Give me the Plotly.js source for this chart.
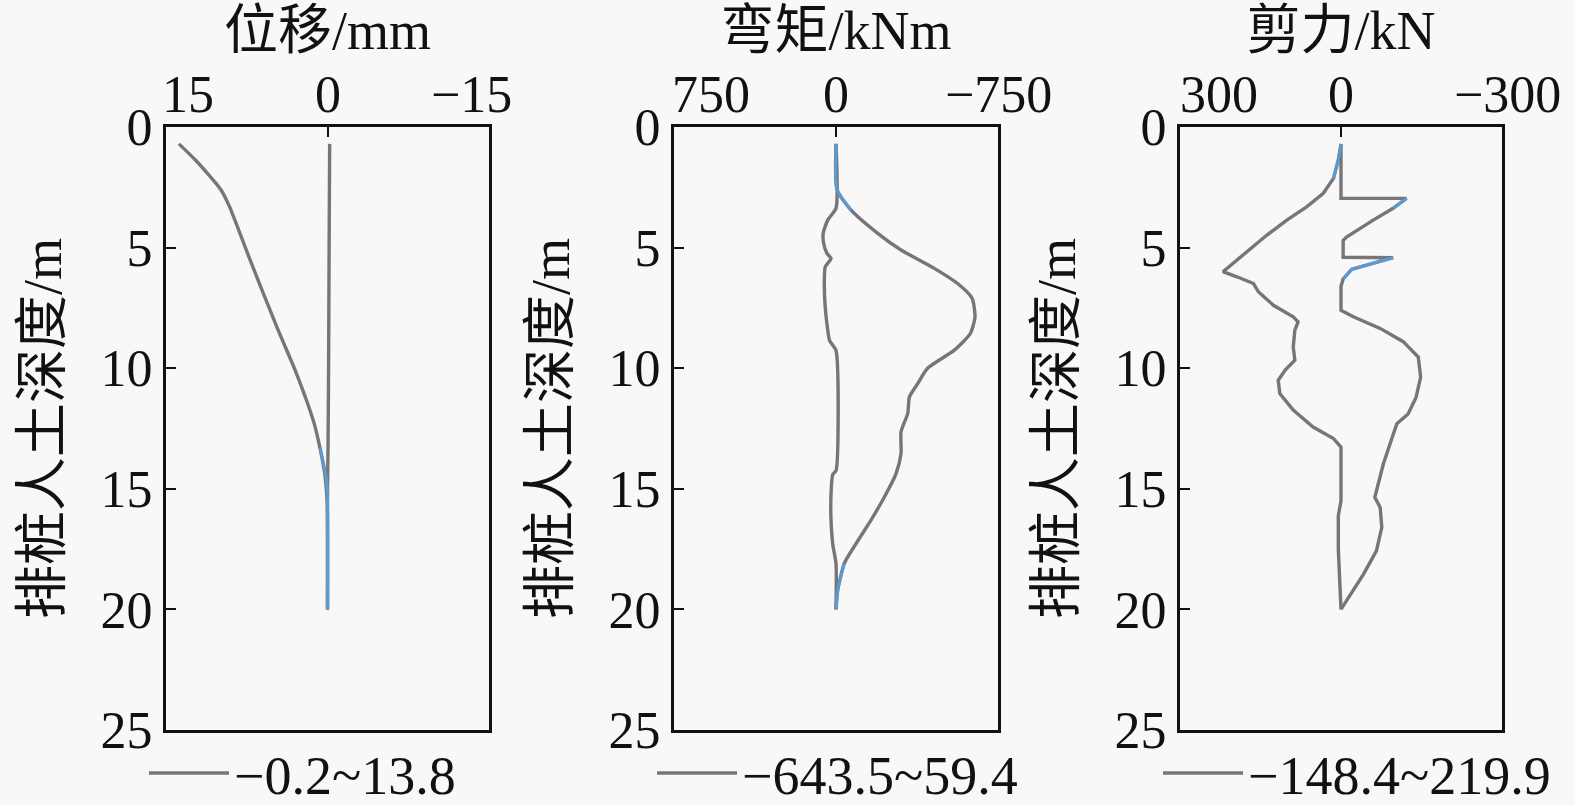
<!DOCTYPE html>
<html><head><meta charset="utf-8">
<script src="https://cdn.plot.ly/plotly-3.0.1.min.js"></script>
<style>html,body{margin:0;padding:0;background:#f8f8f8}</style>
</head><body><div id="chart" style="width:1575px;height:805px"></div>
<script>
// ---------- text ----------
const panelTitles = ['位移/mm', '弯矩/kNm', '剪力/kN'];
const depthTitle = '排桩人土深度/m';
const xTickVals = [[15, 0, -15], [750, 0, -750], [300, 0, -300]];
const xTickText = [['15', '0', '\u221215'], ['750', '0', '\u2212750'], ['300', '0', '\u2212300']];
const depthTicks = [0, 5, 10, 15, 20, 25];
const rangeLabels = ['\u22120.2~13.8', '\u2212643.5~59.4', '\u2212148.4~219.9'];

// ---------- displacement (mm) ----------
const dispMaxDepth = [0.7, 1.4, 2.6, 3.3, 5.5, 8.3, 10.2, 12.2, 13.3, 14.4, 15.6, 20.0];
const dispMaxVal   = [13.8, 12.2, 9.9, 9.1, 7.2, 4.7, 2.9, 1.3, 0.7, 0.25, 0.03, 0];
const dispMinDepth = [0.7, 5.0, 10.0, 13.3, 15.0, 20.0];
const dispMinVal   = [-0.2, -0.15, -0.1, -0.05, 0, 0];
const dispStageDepth = [13.3, 14.0, 14.6, 15.5, 17.0, 20.0];
const dispStageVal   = [0.7, 0.35, 0.1, 0.0, 0, 0];

// ---------- bending moment (kNm) ----------
const momNegDepth = [0.7, 2.6, 3.44, 4.41, 5.1, 5.86, 6.49, 7.1, 7.87, 8.56, 9.25, 10.0, 10.64, 11.19, 11.88, 12.64, 13.54, 14.37, 15.34, 16.3, 17.27, 18.1, 19.2, 20.0];
const momNegVal   = [0, -5, -69, -193, -301, -455, -563, -630, -643.5, -622, -548, -424, -378, -340, -332, -301, -301, -278, -224, -162, -93, -38, -8, 0];
const momPosDepth = [0.7, 3.37, 3.85, 4.41, 4.83, 5.24, 5.45, 5.8, 6.63, 7.46, 8.3, 8.85, 9.27, 14.25, 14.4, 15.2, 16.3, 17.3, 18.1, 20.0];
const momPosVal   = [0, 0, 38, 59.4, 57, 42, 23, 50, 54, 50, 40, 30, 0, 0, 15, 23, 23, 15, 0, 0];
const momStageDepth = [0.7, 2.6, 3.44, null, 18.1, 19.2, 20.0];
const momStageVal   = [0, -5, -69, null, -38, -8, 0];

// ---------- shear force (kN) ----------
const shearPosDepth = [0.7, 1.37, 2.13, 2.75, 3.31, 3.86, 4.48, 5.17, 6.0, 6.21, 6.49, 6.83, 7.39, 7.87, 8.08, 8.42, 9.12, 9.67, 10.08, 10.5, 11.05, 11.74, 12.44, 12.92, 13.27, 15.5, 16.1, 17.5, 18.9, 20.0];
const shearPosVal   = [0, 5, 14, 33, 64, 101, 138, 176, 219.9, 194, 163, 154, 126, 89, 80, 86, 89, 86, 104, 117, 114, 89, 52, 14, 0, 0, 5, 5, 2, 0];
const shearNegDepth = [0.7, 2.96, 2.96, 3.37, 3.86, 4.55, 4.7, 5.4, 5.42, 5.9, 6.3, 6.6, 7.6, 7.87, 8.35, 8.9, 9.54, 10.37, 11.2, 11.9, 12.3, 13.0, 13.96, 15.35, 15.77, 16.6, 17.57, 18.54, 19.65, 20.0];
const shearNegVal   = [0, 0, -122, -97, -60, -11, -4, -4, -97, -20, -4, 0, 0, -23, -73, -116, -144, -148.4, -140, -125, -104, -94, -79, -63, -73, -76, -66, -42, -11, 0];
const shearStageDepth = [0.7, 1.37, 2.13, null, 2.96, 3.37, null, 5.42, 5.9, 6.3];
const shearStageVal   = [0, 5, 14, null, -122, -97, null, -97, -20, -4];

// ---------- build ----------
const W = 1575, H = 805;
const FONT = 'Liberation Serif, "Noto Sans CJK SC", serif';
const GRAY = '#767676', BLUE = '#5b9bd5';
const xDomains = [[166, 489], [674, 998], [1180, 1502]].map(([a, b]) => [a / W, b / W]);
const yDomain = [1 - 730 / H, 1 - 127 / H];

const panels = [
  {a: [dispMaxDepth, dispMaxVal], b: [dispMinDepth, dispMinVal], s: [dispStageDepth, dispStageVal], shape: 'spline'},
  {a: [momNegDepth, momNegVal], b: [momPosDepth, momPosVal], s: [momStageDepth, momStageVal], shape: 'spline'},
  {a: [shearPosDepth, shearPosVal], b: [shearNegDepth, shearNegVal], s: [shearStageDepth, shearStageVal], shape: 'linear'}
];

const traces = [];
const layout = {
  width: W, height: H,
  margin: {l: 0, r: 0, t: 0, b: 0, autoexpand: false},
  paper_bgcolor: '#f8f8f8', plot_bgcolor: '#f8f8f8',
  font: {family: FONT, size: 50, color: '#111'},
  annotations: []
};
const leftShift = [-6, -4, -2];
const rightShift = [-18, 0, 5];

panels.forEach((p, i) => {
  const n = i === 0 ? '' : String(i + 1);
  const xa = 'x' + n, ya = 'y' + n;
  const lg = 'legend' + n;
  traces.push({x: p.a[1], y: p.a[0], xaxis: xa, yaxis: ya, mode: 'lines', name: rangeLabels[i],
    line: {color: GRAY, width: 3.4, shape: p.shape, smoothing: 0.6}, showlegend: true, legend: lg});
  traces.push({x: p.b[1], y: p.b[0], xaxis: xa, yaxis: ya, mode: 'lines', name: rangeLabels[i],
    line: {color: GRAY, width: 3.4, shape: p.shape, smoothing: 0.6}, showlegend: false});
  traces.push({x: p.s[1], y: p.s[0], xaxis: xa, yaxis: ya, mode: 'lines', connectgaps: false,
    line: {color: BLUE, width: 3, shape: p.shape, smoothing: 0.6}, showlegend: false});

  const tv = xTickVals[i];
  layout['xaxis' + n] = {
    domain: xDomains[i], anchor: ya, side: 'top', range: [tv[0], tv[2]],
    tickvals: tv, ticks: 'inside', ticklen: 10, tickwidth: 2, tickcolor: '#111',
    showticklabels: false, showline: true, linewidth: 3, linecolor: '#111', mirror: true,
    showgrid: false, zeroline: false,
    title: {text: panelTitles[i], font: {size: 54}, standoff: 58}
  };
  layout['yaxis' + n] = {
    domain: yDomain, anchor: xa, range: [25, 0],
    tickvals: depthTicks, ticks: 'inside', ticklen: 10, tickwidth: 2, tickcolor: '#111',
    tickfont: {size: 52}, showline: true, linewidth: 3, linecolor: '#111', mirror: true,
    showgrid: false, zeroline: false,
    title: {text: depthTitle, font: {size: 54}, standoff: 22}
  };
  tv.forEach((v, k) => {
    layout.annotations.push({
      xref: xa, yref: 'paper', x: v, y: yDomain[1], yanchor: 'bottom', yshift: 2,
      xanchor: k === 0 ? 'left' : 'center',
      xshift: k === 0 ? leftShift[i] : (k === 2 ? rightShift[i] : 0),
      text: xTickText[i][k], showarrow: false, font: {size: 52}
    });
  });
  layout[lg] = {
    x: xDomains[i][0] - 22 / W, y: -0.013, xanchor: 'left', yanchor: 'bottom',
    bgcolor: 'rgba(0,0,0,0)', font: {size: 54}, itemwidth: 80
  };
});

Plotly.newPlot('chart', traces, layout, {displayModeBar: false, staticPlot: true});
</script></body></html>
